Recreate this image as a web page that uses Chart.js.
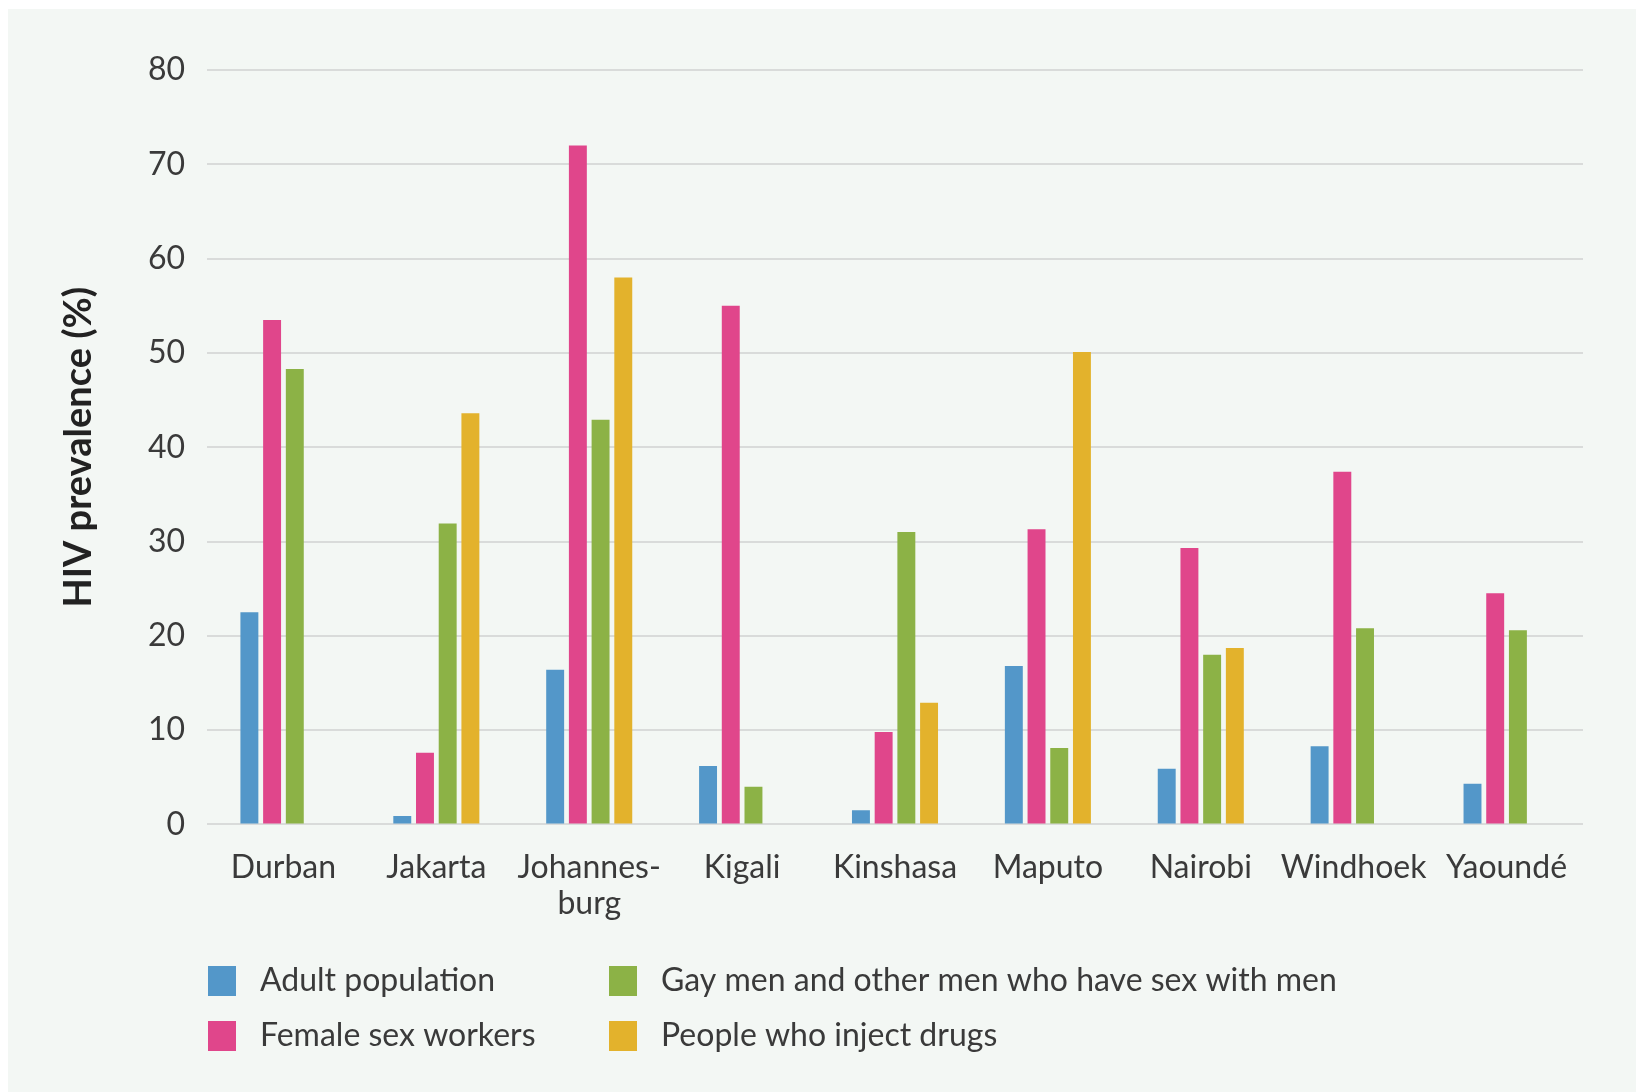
<!DOCTYPE html>
<html>
<head>
<meta charset="utf-8">
<title>HIV prevalence by city</title>
<script src="https://cdn.jsdelivr.net/npm/chart.js@4/dist/chart.umd.min.js"></script>
<style>
    html, body { margin: 0; padding: 0; background: #ffffff; }
    #panel {
        position: absolute;
        left: 8px;
        top: 9px;
        width: 1628px;
        height: 1083px;
        background: #f3f7f4;
    }
</style>
</head>
<body>
<div id="panel">
    <canvas id="hivChart"></canvas>
</div>
<script>
"use strict";

// Дані
const cities = ['Durban', 'Jakarta', ['Johannes-', 'burg'], 'Kigali', 'Kinshasa', 'Maputo', 'Nairobi', 'Windhoek', 'Yaoundé'];
const seriesNames = [
    'Adult population',
    'Female sex workers',
    'Gay men and other men who have sex with men',
    'People who inject drugs'
];
const adultPopulation = [22.5, 0.9, 16.4, 6.2, 1.5, 16.8, 5.9, 8.3, 4.3];
const femaleSexWorkers = [53.5, 7.6, 72.0, 55.0, 9.8, 31.3, 29.3, 37.4, 24.5];
const gayMen = [48.3, 31.9, 42.9, 4.0, 31.0, 8.1, 18.0, 20.8, 20.6];
const injectDrugs = [null, 43.6, 58.0, null, 12.9, 50.1, 18.7, null, null];
const yTicks = [0, 10, 20, 30, 40, 50, 60, 70, 80];

const colors = ['#5397c9', '#e0468b', '#8cb246', '#e3b22c'];
const textColor = '#3a3a3a';
const fontFamily = 'Lato, "Open Sans", sans-serif';

/**
 * Легенда у два стовпці (як в оригіналі)
 */
const columnLegend = {
    id: 'columnLegend',
    afterDraw: function(chart) {
        const ctx = chart.ctx;
        const left = chart.chartArea.left;
        const colX = [left + 1, left + 402];
        const rowY = [972, 1027];
        ctx.save();
        ctx.font = '32px ' + fontFamily;
        ctx.textBaseline = 'middle';
        ctx.textAlign = 'left';
        chart.data.datasets.forEach(function(ds, i) {
            const x = colX[Math.floor(i / 2)];
            const y = rowY[i % 2];
            ctx.fillStyle = ds.backgroundColor;
            ctx.fillRect(x, y - 15, 28, 30);
            ctx.fillStyle = textColor;
            ctx.fillText(ds.label, x + 52, y);
        });
        ctx.restore();
    }
};

function makeDataset(label, data, color) {
    return {
        label: label,
        data: data,
        backgroundColor: color,
        borderWidth: 0,
        barPercentage: 0.79,
        categoryPercentage: 0.594
    };
}

new Chart(document.getElementById('hivChart'), {
    type: 'bar',
    data: {
        labels: cities,
        datasets: [
            makeDataset(seriesNames[0], adultPopulation, colors[0]),
            makeDataset(seriesNames[1], femaleSexWorkers, colors[1]),
            makeDataset(seriesNames[2], gayMen, colors[2]),
            makeDataset(seriesNames[3], injectDrugs, colors[3])
        ]
    },
    options: {
        responsive: true,
        maintainAspectRatio: false,
        animation: false,
        layout: {
            padding: { top: 61, right: 53, bottom: 0, left: 0 }
        },
        scales: {
            y: {
                min: yTicks[0],
                max: yTicks[yTicks.length - 1],
                afterBuildTicks: function(scale) {
                    scale.ticks = yTicks.map(function(v) { return { value: v }; });
                },
                afterFit: function(scale) {
                    scale.width = 199;
                },
                border: { display: false },
                grid: {
                    color: '#d9dbda',
                    lineWidth: 2,
                    drawTicks: false
                },
                ticks: {
                    color: textColor,
                    padding: 22,
                    font: { family: fontFamily, size: 32 }
                },
                title: {
                    display: true,
                    text: 'HIV prevalence (%)',
                    color: '#222222',
                    padding: { top: 48, bottom: 0 },
                    font: { family: fontFamily, size: 38, weight: 'bold' }
                }
            },
            x: {
                afterFit: function(scale) {
                    scale.height = 267.6;
                },
                border: { display: false },
                grid: { display: false, drawTicks: false },
                ticks: {
                    color: textColor,
                    padding: 25,
                    maxRotation: 0,
                    autoSkip: false,
                    font: { family: fontFamily, size: 32, lineHeight: 1.13 }
                }
            }
        },
        plugins: {
            legend: { display: false },
            tooltip: { enabled: false }
        }
    },
    plugins: [columnLegend]
});
</script>
</body>
</html>
